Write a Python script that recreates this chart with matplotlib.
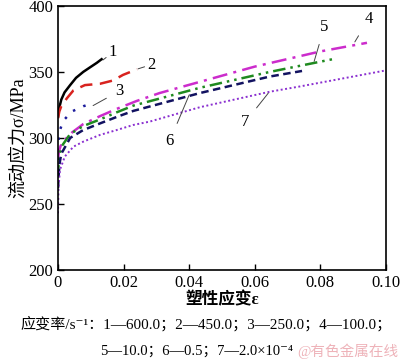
import matplotlib
matplotlib.use('Agg')
import matplotlib.pyplot as plt

plt.rcParams['font.family'] = ['Liberation Serif', 'DejaVu Serif', 'Noto Sans CJK SC']

# strain (x) / stress (y) points, one pair per curve
x1 = [0, 0.0003, 0.001, 0.002, 0.0037, 0.0055, 0.0077, 0.0098, 0.0118, 0.0133]
y1 = [316, 322, 329, 334.5, 340, 345.5, 350, 353.5, 356.8, 359.6]

x2 = [0, 0.0004, 0.001, 0.0027, 0.0047, 0.0082, 0.0128, 0.0168, 0.0198, 0.0241]
y2 = [315, 320, 324, 330, 336, 340, 341, 343.5, 347.7, 352]

x3 = [0, 0.0002, 0.0006, 0.0016, 0.0042, 0.0077, 0.0103]
y3 = [290, 300, 306, 313, 320, 324, 326]

x4 = [0, 0.0003, 0.0008, 0.0016, 0.0042, 0.0077, 0.0128, 0.0179, 0.024, 0.031,
      0.0433, 0.06, 0.08, 0.0942]
y4 = [284, 290, 294, 297.5, 304, 310.5, 316.5, 322, 328, 334, 342.5, 354, 365.5, 372]

x5 = [0, 0.0002, 0.0005, 0.0012, 0.0037, 0.0077, 0.0128, 0.018, 0.023, 0.0433,
      0.0646, 0.0845]
y5 = [270, 280, 288, 294, 303, 309, 314, 319.5, 324.5, 338, 350, 360]

x6 = [0, 0.0002, 0.0005, 0.001, 0.0037, 0.0077, 0.0128, 0.018, 0.023, 0.0433,
      0.0646, 0.0744]
y6 = [262, 272, 281, 288, 300, 306, 311, 316, 320.5, 334, 346.5, 350.7]

x7 = [0, 0.00015, 0.0006, 0.0021, 0.0047, 0.0077, 0.0128, 0.0179, 0.0229, 0.028,
      0.0433, 0.0646, 0.0738, 0.0997]
y7 = [243, 262, 276, 286, 293.4, 297.2, 302.3, 306, 309.8, 312.4, 323.3, 335, 339, 351]

curve_labels = ['1', '2', '3', '4', '5', '6', '7']
rate_line1 = '应变率/s⁻¹：1—600.0；2—450.0；3—250.0；4—100.0；'
rate_line2 = '5—10.0；6—0.5；7—2.0×10⁻⁴'

fig = plt.figure(figsize=(4, 3.64), dpi=100)
ax = fig.add_axes([0.145, 0.258, 0.82, 0.726])

ax.plot(x1, y1, color='black', lw=1.8, ls='-')
ax.plot(x2, y2, color='#d8231f', lw=1.8, ls=(0, (5, 3)))
ax.plot(x3, y3, color='#1c1c9c', lw=1.8, ls=(0, (1, 3.5)))
ax.plot(x4, y4, color='#cc2ccc', lw=1.8, ls=(0, (6, 2.5, 1.2, 2.5)))
ax.plot(x5, y5, color='#1f8a1f', lw=1.8, ls=(0, (5, 2, 1, 2, 1, 2)))
ax.plot(x6, y6, color='#121260', lw=1.8, ls=(0, (3, 1.8)))
ax.plot(x7, y7, color='#8a2fd0', lw=1.4, ls=(0, (1, 1.3)))

# curve numbers with thin leader lines
notes = [((0.0137, 359), (0.0168, 365)),
         ((0.0244, 352.3), (0.0285, 355.5)),
         ((0.0107, 324.5), (0.0187, 335.5)),
         ((0.0905, 372.7), (0.0947, 390)),
         ((0.0781, 358), (0.0812, 384)),
         ((0.0400, 332.6), (0.0341, 298)),
         ((0.0641, 333.9), (0.0571, 312))]
for lab, (xy, xt) in zip(curve_labels, notes):
    ax.annotate(lab, xy=xy, xytext=xt, fontsize=12, ha='center', va='center',
                arrowprops=dict(arrowstyle='-', color='#444444', lw=0.7,
                                shrinkA=5, shrinkB=0))

ax.set_xlim(0, 0.1)
ax.set_ylim(200, 400)
ax.set_xticks([0, 0.02, 0.04, 0.06, 0.08, 0.1])
ax.set_xticklabels(['0', '0.02', '0.04', '0.06', '0.08', '0.10'])
ax.set_yticks([200, 250, 300, 350, 400])
ax.tick_params(direction='in', labelsize=12, length=4, width=1)
for s in ax.spines.values():
    s.set_linewidth(1.2)

ax.set_xlabel('塑性应变ε', fontsize=12, fontweight='bold', labelpad=1)
ax.set_ylabel('流动应力σ/MPa', fontsize=13, labelpad=1)

fig.text(0.05, 0.11, rate_line1, fontsize=10.9, ha='left', va='center')
fig.text(0.25, 0.035, rate_line2, fontsize=10.5, ha='left', va='center')
fig.text(0.995, 0.035, '@有色金属在线', fontsize=10.5, color='#eaa0a8',
         ha='right', va='center', alpha=0.8)

fig.savefig('out.png', dpi=100)
